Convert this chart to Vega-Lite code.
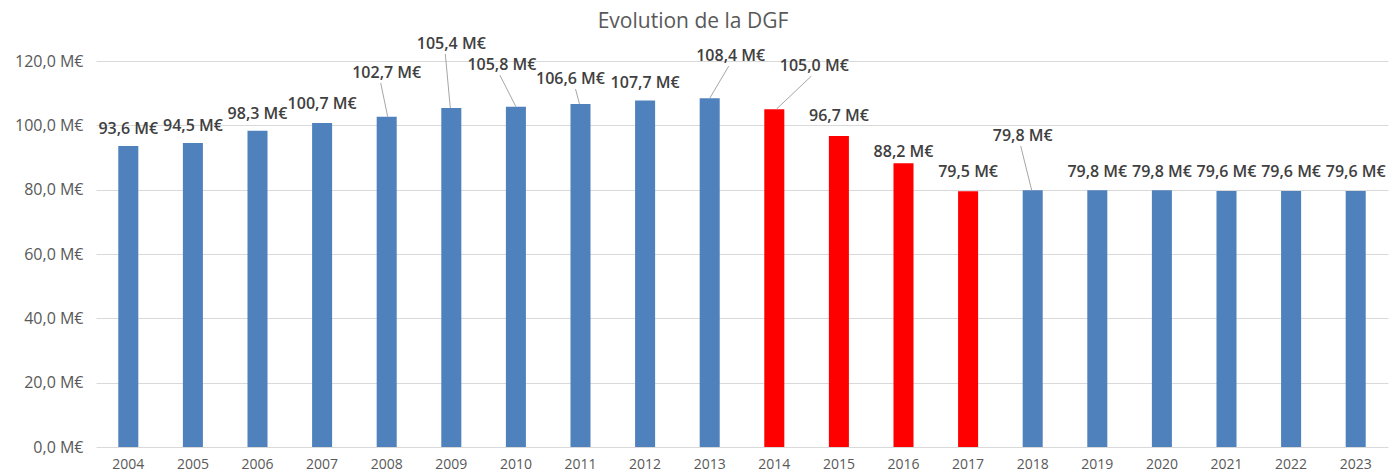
{
  "$schema": "https://vega.github.io/schema/vega-lite/v6.json",
  "autosize": "none",
  "width": 1292,
  "height": 386,
  "padding": {"left": 96, "top": 61, "right": 2, "bottom": 27},
  "background": "white",
  "title": {"text": "Evolution de la  DGF", "fontSize": 21, "font": "Open Sans", "fontWeight": "normal", "color": "#595959", "offset": 4, "dx": -49},
  "config": {
    "locale": {"number": {"decimal": ",", "thousands": " ", "grouping": [3], "currency": ["", " M€"]}},
    "view": {"stroke": null},
    "font": "Open Sans"
  },
  "data": {"values": [
    {"year": "2004", "value": 93.6, "period": "normal", "lab": 98.9},
    {"year": "2005", "value": 94.5, "period": "normal", "lab": 99.8},
    {"year": "2006", "value": 98.3, "period": "normal", "lab": 103.5},
    {"year": "2007", "value": 100.7, "period": "normal", "lab": 106.6},
    {"year": "2008", "value": 102.7, "period": "normal", "lab": 116.3},
    {"year": "2009", "value": 105.4, "period": "normal", "lab": 125.3},
    {"year": "2010", "value": 105.8, "period": "normal", "lab": 118.7},
    {"year": "2011", "value": 106.6, "period": "normal", "lab": 114.4},
    {"year": "2012", "value": 107.7, "period": "normal", "lab": 113.2},
    {"year": "2013", "value": 108.4, "period": "normal", "lab": 121.5},
    {"year": "2014", "value": 105.0, "period": "baisse", "lab": 118.4},
    {"year": "2015", "value": 96.7, "period": "baisse", "lab": 102.9},
    {"year": "2016", "value": 88.2, "period": "baisse", "lab": 91.7},
    {"year": "2017", "value": 79.5, "period": "baisse", "lab": 85.5},
    {"year": "2018", "value": 79.8, "period": "normal", "lab": 96.7},
    {"year": "2019", "value": 79.8, "period": "normal", "lab": 85.5},
    {"year": "2020", "value": 79.8, "period": "normal", "lab": 85.5},
    {"year": "2021", "value": 79.6, "period": "normal", "lab": 85.5},
    {"year": "2022", "value": 79.6, "period": "normal", "lab": 85.5},
    {"year": "2023", "value": 79.6, "period": "normal", "lab": 85.5}
  ]},
  "encoding": {
    "x": {
      "field": "year", "type": "ordinal", "bandPosition": 0.5,
      "scale": {"paddingInner": 0.69, "paddingOuter": 0.345},
      "axis": {"title": null, "labelAngle": 0, "domain": false, "ticks": false, "grid": false, "labelPadding": 10, "labelFontSize": 14, "labelColor": "#595959", "labelFont": "Open Sans"}
    }
  },
  "layer": [
    {
      "mark": {"type": "bar"},
      "encoding": {
        "x": {"field": "year", "type": "ordinal"},
        "y": {
          "field": "value", "type": "quantitative",
          "scale": {"domain": [0, 120], "nice": false},
          "axis": {"title": null, "values": [0, 20, 40, 60, 80, 100, 120], "format": "$.1f", "domain": false, "ticks": false, "labelPadding": 13, "labelFontSize": 16, "labelColor": "#595959", "labelFont": "Open Sans", "gridColor": "#D9D9D9", "gridWidth": 1}
        },
        "color": {"field": "period", "type": "nominal", "scale": {"domain": ["normal", "baisse"], "range": ["#4F81BD", "#FF0000"]}, "legend": null}
      }
    },
    {
      "transform": [{"filter": {"field": "year", "equal": "2008"}}],
      "mark": {"type": "rule", "color": "#A6A6A6", "strokeWidth": 1, "yOffset": 10, "xOffset": -6, "x2Offset": 1},
      "encoding": {"x2": {"field": "year", "bandPosition": 0.5}, "y": {"field": "lab", "type": "quantitative"}, "y2": {"field": "value"}}
    },
    {
      "transform": [{"filter": {"field": "year", "equal": "2009"}}],
      "mark": {"type": "rule", "color": "#A6A6A6", "strokeWidth": 1, "yOffset": 10, "xOffset": -6, "x2Offset": -1},
      "encoding": {"x2": {"field": "year", "bandPosition": 0.5}, "y": {"field": "lab", "type": "quantitative"}, "y2": {"field": "value"}}
    },
    {
      "transform": [{"filter": {"field": "year", "equal": "2010"}}],
      "mark": {"type": "rule", "color": "#A6A6A6", "strokeWidth": 1, "yOffset": 10, "xOffset": -16, "x2Offset": 0},
      "encoding": {"x2": {"field": "year", "bandPosition": 0.5}, "y": {"field": "lab", "type": "quantitative"}, "y2": {"field": "value"}}
    },
    {
      "transform": [{"filter": {"field": "year", "equal": "2011"}}],
      "mark": {"type": "rule", "color": "#A6A6A6", "strokeWidth": 1, "yOffset": 10, "xOffset": -5, "x2Offset": -1},
      "encoding": {"x2": {"field": "year", "bandPosition": 0.5}, "y": {"field": "lab", "type": "quantitative"}, "y2": {"field": "value"}}
    },
    {
      "transform": [{"filter": {"field": "year", "equal": "2013"}}],
      "mark": {"type": "rule", "color": "#A6A6A6", "strokeWidth": 1, "yOffset": 10, "xOffset": 19, "x2Offset": 0},
      "encoding": {"x2": {"field": "year", "bandPosition": 0.5}, "y": {"field": "lab", "type": "quantitative"}, "y2": {"field": "value"}}
    },
    {
      "transform": [{"filter": {"field": "year", "equal": "2014"}}],
      "mark": {"type": "rule", "color": "#A6A6A6", "strokeWidth": 1, "yOffset": 10, "xOffset": 37, "x2Offset": 2},
      "encoding": {"x2": {"field": "year", "bandPosition": 0.5}, "y": {"field": "lab", "type": "quantitative"}, "y2": {"field": "value"}}
    },
    {
      "transform": [{"filter": {"field": "year", "equal": "2018"}}],
      "mark": {"type": "rule", "color": "#A6A6A6", "strokeWidth": 1, "yOffset": 10, "xOffset": -12, "x2Offset": -1},
      "encoding": {"x2": {"field": "year", "bandPosition": 0.5}, "y": {"field": "lab", "type": "quantitative"}, "y2": {"field": "value"}}
    },
    {
      "transform": [{"filter": {"not": {"field": "year", "oneOf": ["2010", "2011", "2013", "2014", "2018"]}}}],
      "mark": {"type": "text", "font": "Open Sans", "fontSize": 16, "fontWeight": 600, "color": "#404040", "baseline": "middle"},
      "encoding": {"y": {"field": "lab", "type": "quantitative"}, "text": {"field": "value", "type": "quantitative", "format": "$.1f"}}
    },
    {
      "transform": [{"filter": {"field": "year", "equal": "2010"}}],
      "mark": {"type": "text", "font": "Open Sans", "fontSize": 16, "fontWeight": 600, "color": "#404040", "baseline": "middle", "dx": -14},
      "encoding": {"y": {"field": "lab", "type": "quantitative"}, "text": {"field": "value", "type": "quantitative", "format": "$.1f"}}
    },
    {
      "transform": [{"filter": {"field": "year", "oneOf": ["2011", "2018"]}}],
      "mark": {"type": "text", "font": "Open Sans", "fontSize": 16, "fontWeight": 600, "color": "#404040", "baseline": "middle", "dx": -10},
      "encoding": {"y": {"field": "lab", "type": "quantitative"}, "text": {"field": "value", "type": "quantitative", "format": "$.1f"}}
    },
    {
      "transform": [{"filter": {"field": "year", "equal": "2013"}}],
      "mark": {"type": "text", "font": "Open Sans", "fontSize": 16, "fontWeight": 600, "color": "#404040", "baseline": "middle", "dx": 21},
      "encoding": {"y": {"field": "lab", "type": "quantitative"}, "text": {"field": "value", "type": "quantitative", "format": "$.1f"}}
    },
    {
      "transform": [{"filter": {"field": "year", "equal": "2014"}}],
      "mark": {"type": "text", "font": "Open Sans", "fontSize": 16, "fontWeight": 600, "color": "#404040", "baseline": "middle", "dx": 40},
      "encoding": {"y": {"field": "lab", "type": "quantitative"}, "text": {"field": "value", "type": "quantitative", "format": "$.1f"}}
    }
  ]
}
